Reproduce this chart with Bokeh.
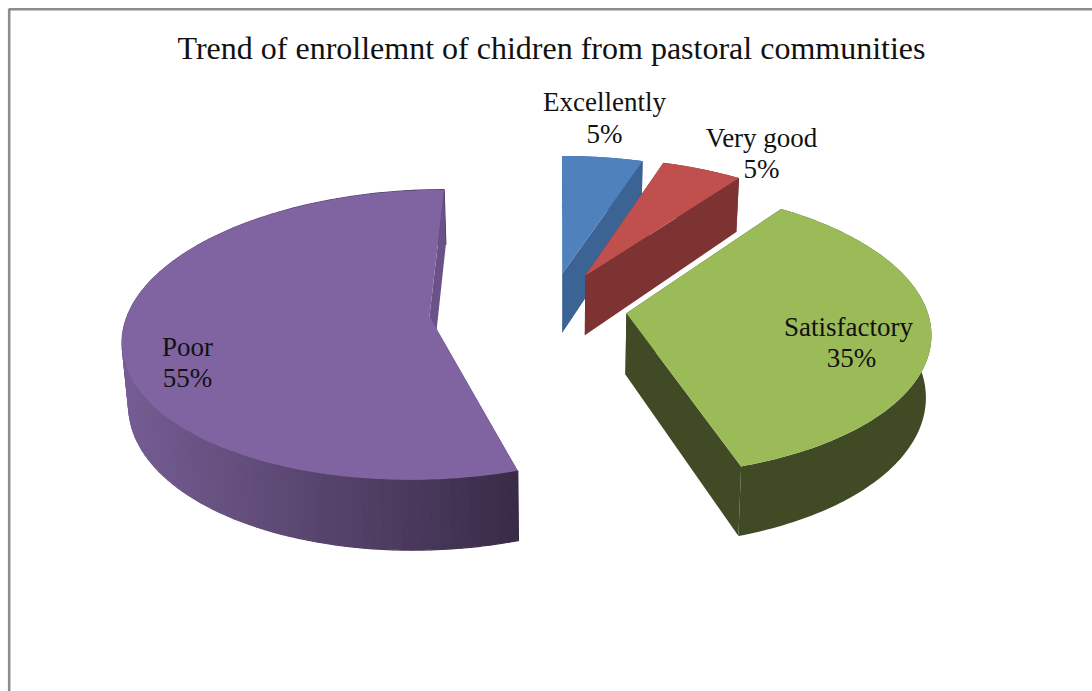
import numpy as np
from bokeh.core.properties import value
from bokeh.embed import file_html
from bokeh.models import Range1d
from bokeh.plotting import figure
from bokeh.resources import INLINE

# Survey results
categories = ["Excellently", "Very good", "Satisfactory", "Poor"]
percentages = [5, 5, 35, 55]
title_text = "Trend of enrollemnt of chidren from pastoral communities"

# Slice styling and how far each slice is pulled out of the pie
top_colors = ["#4f81bd", "#c0504d", "#9bbb59", "#8064a2"]
wall_colors = ["#3b6494", "#7d3331", "#404a24", "#6a5288"]
explode = [0.25, 0.26, 0.255, 0.405]

# Projection of the tilted disc onto the page
CX, CY = 550.0, 307.0
RX, RY = 300.0, 140.5
VANISH_X = 560.0
PERSP = 0.125
DEPTH = 61.0
SHRINK = 0.985


def top_point(angle, radius, offset, mid):
    px = offset * np.sin(mid) + radius * np.sin(angle)
    py = -offset * np.cos(mid) - radius * np.cos(angle)
    w = 1 - PERSP * py
    return VANISH_X + (CX - VANISH_X + RX * px) / w, CY + RY * py / w, w


def base_point(angle, radius, offset, mid):
    x, y, w = top_point(angle, radius, offset, mid)
    return VANISH_X + (x - VANISH_X) * SHRINK, y + DEPTH / w


def mix(c0, c1, t):
    a = np.array([int(c0[i:i + 2], 16) for i in (1, 3, 5)])
    b = np.array([int(c1[i:i + 2], 16) for i in (1, 3, 5)])
    return "#%02x%02x%02x" % tuple(int(v) for v in np.round(a + (b - a) * t))


p = figure(width=1092, height=691, output_backend="svg", toolbar_location=None,
           x_range=Range1d(0, 1092), y_range=Range1d(691, 0),
           min_border=0, outline_line_color=None)
p.axis.visible = False
p.grid.visible = False
p.background_fill_color = "white"
p.border_fill_color = "white"

# Chart frame, open on the right and at the bottom
p.line([8.7, 8.7, 1092], [691, 8.7, 8.7], line_color="#8c8c8c", line_width=2.6)

edges = 2 * np.pi * np.cumsum([0] + percentages) / sum(percentages)

for i, cat in enumerate(categories):
    a0, a1 = edges[i], edges[i + 1]
    mid = (a0 + a1) / 2
    off = explode[i]
    arc = np.linspace(a0, a1, 121)

    xt, yt, _ = top_point(arc, 1.0, off, mid)
    xb, yb = base_point(arc, 1.0, off, mid)
    ax, ay, _ = top_point(0.0, 0.0, off, mid)
    bx, by = base_point(0.0, 0.0, off, mid)

    # Leading cut face sits behind the rim
    p.patch([ax, xt[0], xb[0], bx], [ay, yt[0], yb[0], by],
            fill_color=wall_colors[i], line_color=None)

    # Rim, in short strips so the largest slice can carry a shading ramp
    if cat == "Poor":
        lo, hi = xt.min(), xt.max()
        for j in range(len(arc) - 1):
            t = ((xt[j] + xt[j + 1]) / 2 - lo) / (hi - lo)
            c = mix("#755d93", "#392b47", t)
            p.patch([xt[j], xt[j + 1], xb[j + 1], xb[j]],
                    [yt[j], yt[j + 1], yb[j + 1], yb[j]],
                    fill_color=c, line_color=c, line_width=1.2)
    else:
        p.patch(np.r_[xt, xb[::-1]], np.r_[yt, yb[::-1]],
                fill_color=wall_colors[i], line_color=None)

    # Trailing cut face
    p.patch([ax, xt[-1], xb[-1], bx], [ay, yt[-1], yb[-1], by],
            fill_color=wall_colors[i], line_color=None)

    # Upper face
    p.patch(np.r_[ax, xt], np.r_[ay, yt], fill_color=top_colors[i], line_color=None)

font = value("Liberation Serif")
p.text([551], [47], text=[title_text], text_font=font, text_font_size="32px",
       text_align="center", text_baseline="alphabetic", text_color="#111111")

# Category name and share above each other
name_x = [604, 761, 848, 187]
name_y = [101, 137, 326, 346]
share_x = [604, 761, 851, 187]
share_y = [133, 168, 357, 377]
p.text(name_x, name_y, text=categories, text_font=font, text_font_size="27px",
       text_align="center", text_baseline="alphabetic", text_color="#111111")
p.text(share_x, share_y, text=[f"{v}%" for v in percentages], text_font=font,
       text_font_size="27px", text_align="center", text_baseline="alphabetic",
       text_color="#111111")

open("out.html", "w").write(file_html(p, INLINE))
